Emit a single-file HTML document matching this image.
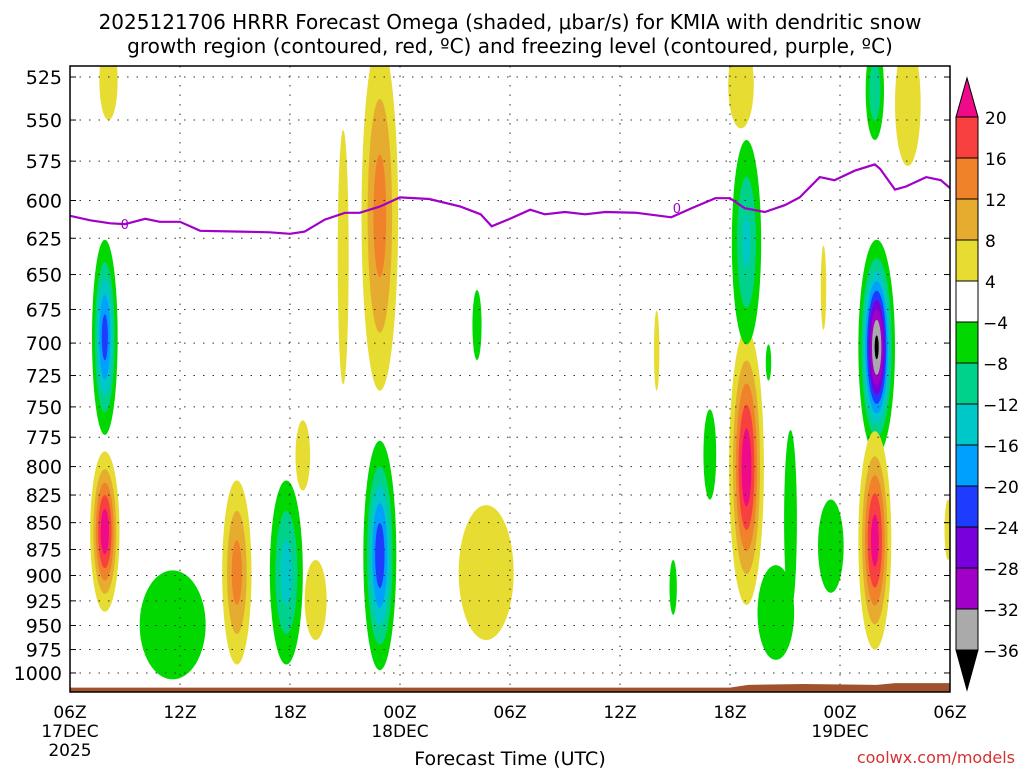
<!DOCTYPE html>
<html><head><meta charset="utf-8">
<style>
html,body{margin:0;padding:0;background:#fff;}
body{width:1024px;height:768px;overflow:hidden;font-family:"Liberation Sans","DejaVu Sans",sans-serif;}
svg text{font-family:"DejaVu Sans","Liberation Sans",sans-serif;}
</style></head>
<body>
<svg id="chart" width="1024" height="768" viewBox="0 0 1024 768" xmlns="http://www.w3.org/2000/svg">
<text x="510" y="29" font-size="20" text-anchor="middle" fill="#000">2025121706 HRRR Forecast Omega (shaded, μbar/s) for KMIA with dendritic snow</text>
<text x="510" y="53" font-size="20" text-anchor="middle" fill="#000">growth region (contoured, red, ºC) and freezing level (contoured, purple, ºC)</text>
<defs><clipPath id="plotclip"><rect x="70" y="66" width="880" height="626"/></clipPath></defs>
<g id="shading" clip-path="url(#plotclip)"></g>
<g id="grid"></g>
<g id="ground" clip-path="url(#plotclip)"></g>
<g id="frz" clip-path="url(#plotclip)"></g>
<rect x="70" y="66" width="880" height="626" fill="none" stroke="#000" stroke-width="1.5"/>
<g id="yaxis"></g>
<g id="xaxis"></g>
<g id="cbar"></g>
<text x="510" y="765" font-size="19" text-anchor="middle">Forecast Time (UTC)</text>
<text x="1015" y="763" font-size="16" text-anchor="end" fill="#d83030">coolwx.com/models</text>
</svg>
<script>
// ---- data ----
const pressureTicks = [525,550,575,600,625,650,675,700,725,750,775,800,825,850,875,900,925,950,975,1000];
const timeTickHours = [0,6,12,18,24,30,36,42,48];
const timeTickLabels = ["06Z","12Z","18Z","00Z","06Z","12Z","18Z","00Z","06Z"];
const dateLabels = [{h:0,t:"17DEC"},{h:18,t:"18DEC"},{h:42,t:"19DEC"}];
const cbarLevels = [20,16,12,8,4,-4,-8,-12,-16,-20,-24,-28,-32,-36];
// omega features: hour, half-width (h), top pressure, bottom pressure, peak value
const blobHours = [1.9,1.9,2.1,5.6,9.1,11.8,12.7,13.4,14.9,16.9,16.9,22.7,22.2,32.0,32.9,34.9,36.9,36.9,38.1,39.3,38.5,41.5,41.1,44.0,47.9,43.9,45.7,43.9,36.6];
const blobHalfW = [0.7,0.8,0.5,1.8,0.8,0.9,0.4,0.6,0.3,1.0,0.9,1.5,0.25,0.15,0.2,0.35,0.95,0.8,0.15,0.35,1.0,0.7,0.15,1.0,0.2,0.9,0.7,0.5,0.7];
const blobTop   = [626,787,505,895,812,812,761,885,556,505,778,834,661,676,885,752,690,562,701,769,890,829,630,626,829,770,505,505,505];
const blobBot   = [773,936,550,1007,991,991,821,965,732,737,997,965,713,737,939,829,929,701,729,935,986,917,690,790,885,975,578,562,555];
const blobPeak  = [-22,23,6,-7,14,-14,5,5,5,14,-23,6,-6,5,-6,-6,23,-13,-6,-7,-6,-6,5,-37,5,22,6,-12,6];
// freezing level (hour, pressure)
const frzHours = [0,1.1,2.2,3.0,4.1,4.9,6.0,7.1,9.3,10.9,12.0,12.8,13.9,15.0,15.8,16.9,18.0,19.6,21.3,22.4,23.0,24.0,25.1,25.9,27.0,28.1,29.2,30.9,32.8,33.9,35.2,36.0,36.8,37.9,39.0,39.8,40.9,41.7,42.8,43.9,44.2,45.0,45.6,46.7,47.5,48];
const frzPress = [610,613,615,615.5,612,614,614,620,620.5,621,622,620.5,612.5,608,608,604,598,599,604,609,617,612,606,609,607.5,609,607.5,608,611,605,598.5,598.5,605,607.5,603,598,585,587,581,577,580,593,591,585,587,592];
const groundHours = [0,20,36,37,40,44,45,48];
const groundPress = [1016,1016,1016,1013,1012,1013,1011,1011];
// ---- scales ----
const X0=70,X1=950,Y525=77,Bk=924.9;
const xS=h=>X0+h*(X1-X0)/48;
const yS=p=>Y525+Bk*Math.log(p/525);
const NS="http://www.w3.org/2000/svg";
function mk(tag,attrs,parent){const e=document.createElementNS(NS,tag);for(const k in attrs)e.setAttribute(k,attrs[k]);parent.appendChild(e);return e;}
const posCols={4:"#e6dc32",8:"#e6ac30",12:"#f0822a",16:"#f94040",20:"#ee0a88"};
const negCols={"-4":"#00d800","-8":"#00d28c","-12":"#00c8c8","-16":"#00a0ff","-20":"#1e3cff","-24":"#7800dc","-28":"#a000c8","-32":"#aaaaaa","-36":"#000000"};
const shading=document.getElementById('shading');
for(let i=0;i<blobHours.length;i++){
  const pk=blobPeak[i],cx=xS(blobHours[i]);
  const yt=yS(blobTop[i]),yb=yS(blobBot[i]);
  const cy=(yt+yb)/2,ry0=(yb-yt)/2,rx0=blobHalfW[i]*(X1-X0)/48;
  const lv=pk>0?[4,8,12,16,20]:[-4,-8,-12,-16,-20,-24,-28,-32,-36];
  const rOut=Math.log(Math.abs(pk)/4);
  lv.forEach(L=>{
    if(Math.abs(L)>=Math.abs(pk))return;
    const s=Math.sqrt(Math.log(Math.abs(pk)/Math.abs(L))/rOut);
    const el=mk('ellipse',{cx:cx,cy:cy,rx:rx0*s,ry:ry0*s,fill:pk>0?posCols[L]:negCols[L]},shading);
    
    
  });
}
// grid
const grid=document.getElementById('grid');
pressureTicks.forEach(p=>{
  const l=mk('line',{x1:X0,x2:X1,y1:yS(p),y2:yS(p),stroke:"#333","stroke-width":1,"stroke-dasharray":"1.5,8"},grid);
  
  
});
timeTickHours.slice(1,-1).forEach(h=>{
  const l=mk('line',{x1:xS(h),x2:xS(h),y1:66,y2:692,stroke:"#333","stroke-width":1,"stroke-dasharray":"1.5,8"},grid);
  
  
});
// ground
let gd="M"+xS(groundHours[0])+",700 ";
groundHours.forEach((h,i)=>gd+="L"+xS(h).toFixed(1)+","+yS(groundPress[i]).toFixed(1)+" ");
gd+="L"+xS(48)+",700 Z";
const gp=mk('path',{d:gd,fill:"#a0522d"},document.getElementById('ground'));


// freezing line
const frz=document.getElementById('frz');
const fp=mk('polyline',{points:frzHours.map((h,i)=>xS(h).toFixed(1)+","+yS(frzPress[i]).toFixed(1)).join(" "),fill:"none",stroke:"#a000c8","stroke-width":2.2},frz);


[2.99,33.1].forEach(h=>{
  let j=frzHours.findIndex(v=>v>=h);
  const t=mk('text',{x:xS(h),y:yS(frzPress[j])+5,"font-size":13,"text-anchor":"middle",fill:"#a000c8"},frz);
  t.textContent="0";
  
  
});
// y axis
const ya=document.getElementById('yaxis');
pressureTicks.forEach(p=>{
  const t=mk('text',{x:62,y:yS(p)+7,"font-size":19,"text-anchor":"end"},ya);
  t.textContent=p;
  
  
  mk('line',{x1:X0,x2:X0+6,y1:yS(p),y2:yS(p),stroke:"#000"},ya);
  mk('line',{x1:X1-6,x2:X1,y1:yS(p),y2:yS(p),stroke:"#000"},ya);
});
// x axis
const xa=document.getElementById('xaxis');
timeTickHours.forEach((h,i)=>{
  const t=mk('text',{x:xS(h),y:718,"font-size":17,"text-anchor":"middle"},xa);
  t.textContent=timeTickLabels[i];
  
  
});
dateLabels.forEach(d=>{
  const t=mk('text',{x:xS(d.h),y:737,"font-size":17,"text-anchor":"middle"},xa);
  t.textContent=d.t;
  
  
});
const yr=mk('text',{x:xS(0),y:756,"font-size":17,"text-anchor":"middle"},xa);
yr.textContent="2025";


// colorbar
const cb=document.getElementById('cbar');
const cbX=956,cbW=22,cbTop=117,cbStep=(650-117)/13;
const boxCols=["#f94040","#f0822a","#e6ac30","#e6dc32","#ffffff","#00d800","#00d28c","#00c8c8","#00a0ff","#1e3cff","#7800dc","#a000c8","#aaaaaa"];
const tri1=mk('polygon',{points:`${cbX},${cbTop} ${cbX+cbW},${cbTop} ${cbX+cbW/2},78`,fill:"#ee0a88",stroke:"#000"},cb);


boxCols.forEach((c,i)=>{
  const r=mk('rect',{x:cbX,y:cbTop+i*cbStep,width:cbW,height:cbStep,fill:c,stroke:"#000"},cb);
  
  
});
const tri2=mk('polygon',{points:`${cbX},650 ${cbX+cbW},650 ${cbX+cbW/2},690`,fill:"#000",stroke:"#000"},cb);


cbarLevels.forEach((v,i)=>{
  const t=mk('text',{x:v<0?983:985,y:cbTop+i*cbStep+7,"font-size":17},cb);
  t.textContent=v<0?"\u2212"+Math.abs(v):v;
  
  
});
</script>
</body></html>
